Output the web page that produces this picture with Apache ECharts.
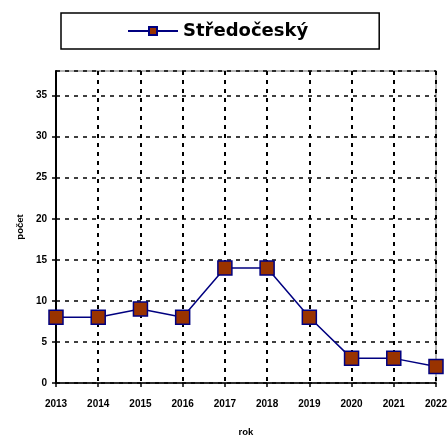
<!DOCTYPE html>
<html>
<head>
<meta charset="utf-8">
<script src="https://cdn.jsdelivr.net/npm/echarts@6/dist/echarts.min.js"></script>
<style>
  html, body { margin: 0; padding: 0; background: #fff; }
  #chart { width: 448px; height: 436px; }
</style>
</head>
<body>
<div id="chart"></div>
<script>
  // data
  var years = ['2013', '2014', '2015', '2016', '2017', '2018', '2019', '2020', '2021', '2022']
  var pocty = [8, 8, 9, 8, 14, 14, 8, 3, 3, 2]
  var seriesName = 'Středočeský'

  var fontFam = 'Liberation Sans, Arial, sans-serif'
  var chart = echarts.init(document.getElementById('chart'))

  var option = {
    animation: false,
    backgroundColor: '#fff',
    legend: {
      left: 61,
      top: 13,
      padding: [9, 71, 9, 66],
      borderColor: '#000',
      borderWidth: 1.5,
      itemWidth: 50,
      itemHeight: 10,
      itemGap: 0,
      textStyle: { fontFamily: 'DejaVu Sans', fontSize: 18, fontWeight: 'bold', color: '#000' },
      data: [seriesName]
    },
    grid: {
      left: 56, right: 12, top: 71, bottom: 53,
      outerBoundsMode: 'none',
      show: true,
      borderColor: '#9a9a9a',
      borderWidth: 1.5
    },
    xAxis: {
      type: 'category',
      data: years,
      boundaryGap: false,
      name: 'rok',
      nameLocation: 'middle',
      nameGap: 44,
      nameTextStyle: { fontFamily: fontFam, fontSize: 9.5, fontWeight: 'bold', color: '#000' },
      axisLine: { lineStyle: { color: '#000', width: 1.5 } },
      axisTick: { length: 4, lineStyle: { color: '#000', width: 1.5 } },
      axisLabel: { margin: 16, fontFamily: fontFam, fontSize: 10, fontWeight: 'bold', color: '#000' },
      splitLine: { show: true, lineStyle: { color: '#000', width: 2, type: [4, 5] } }
    },
    yAxis: {
      type: 'value',
      min: 0,
      max: 38,
      interval: 5,
      name: 'počet',
      nameLocation: 'middle',
      nameGap: 31,
      nameTextStyle: { fontFamily: fontFam, fontSize: 9.5, fontWeight: 'bold', color: '#000' },
      axisLine: { show: true, lineStyle: { color: '#000', width: 2 } },
      axisTick: { show: true, length: 4, lineStyle: { color: '#000', width: 1.5 } },
      axisLabel: { showMaxLabel: false, margin: 9, fontFamily: fontFam, fontSize: 10, fontWeight: 'bold', color: '#000' },
      splitLine: { show: true, lineStyle: { color: '#000', width: 1.5, type: [4, 5] } }
    },
    series: [{
      name: seriesName,
      type: 'line',
      data: pocty,
      symbol: 'rect',
      symbolSize: 14,
      itemStyle: { color: '#993300', borderColor: '#000080', borderWidth: 1.5 },
      lineStyle: { color: '#000080', width: 1.5 }
    }]
  }

  chart.setOption(option)
</script>
</body>
</html>
